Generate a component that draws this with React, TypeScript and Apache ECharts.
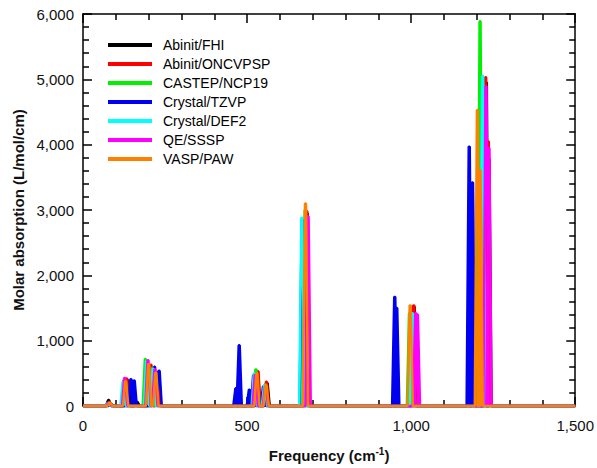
import React, { useEffect, useRef } from "react";
import * as echarts from "echarts";

// ---- data (peak frequency in cm-1, peak molar absorption in L/mol/cm) ----
const seriesNames = [
  "Abinit/FHI",
  "Abinit/ONCVPSP",
  "CASTEP/NCP19",
  "Crystal/TZVP",
  "Crystal/DEF2",
  "QE/SSSP",
  "VASP/PAW",
];

const seriesColors = ["#000000", "#ff0000", "#00f000", "#0000f0", "#00ffff", "#ff00ff", "#ff8000"];

const peaksFHI: number[][] = [
  [78, 90], [135, 400], [165, 60], [205, 620], [226, 500], [532, 520], [561, 350],
  [683, 2950], [1009, 1520], [1229, 4950], [1237, 3780],
];
const peaksONCV: number[][] = [
  [80, 60], [133, 420], [207, 630], [228, 520], [533, 530], [559, 370],
  [682, 2980], [1008, 1540], [1227, 5030], [1235, 4050],
];
const peaksNCP19: number[][] = [
  [77, 45], [124, 390], [190, 720], [212, 580], [527, 560], [555, 330],
  [677, 3000], [995, 1420], [1210, 5890],
];
const peaksTZVP: number[][] = [
  [85, 30], [146, 410], [156, 390], [218, 600], [232, 540], [466, 270], [476, 930],
  [507, 250], [520, 470], [550, 300], [668, 2850], [950, 1670], [956, 1500],
  [1177, 3970], [1187, 3420],
];
const peaksDEF2: number[][] = [
  [76, 40], [122, 360], [194, 690], [214, 570], [522, 500], [553, 310],
  [667, 2880], [1004, 1420], [1218, 5050],
];
const peaksSSSP: number[][] = [
  [79, 50], [127, 430], [198, 700], [219, 560], [525, 480], [556, 300],
  [686, 2900], [1014, 1420], [1019, 1400], [1228, 4890], [1237, 3950],
];
const peaksPAW: number[][] = [
  [82, 50], [130, 380], [200, 640], [222, 510], [530, 500], [558, 320],
  [678, 3100], [997, 1540], [1202, 4530], [1210, 3610],
];

const allPeaks = [peaksFHI, peaksONCV, peaksNCP19, peaksTZVP, peaksDEF2, peaksSSSP, peaksPAW];

const xTickLabels = ["0", "500", "1,000", "1,500"];
const xRange = [0, 1500];
const yRange = [0, 6000];

// drawing style of one spectral line
const BASE_HALF = 8;
const TOP_HALF = 1.5;

function buildLine(peaks: number[][]): number[][] {
  const pts: number[][] = [[xRange[0], 0]];
  for (const [f, h] of peaks) {
    pts.push([f - BASE_HALF, 0], [f - TOP_HALF, h], [f + TOP_HALF, h], [f + BASE_HALF, 0]);
  }
  pts.push([xRange[1], 0]);
  return pts;
}

const FONT = "'Liberation Sans', Arial, Helvetica, sans-serif";

export default function App() {
  const ref = useRef<HTMLDivElement>(null);
  useEffect(() => {
    if (!ref.current) return;
    const chart = echarts.init(ref.current, undefined, { renderer: "svg" });

    const axisLine = { show: true, onZero: false, lineStyle: { color: "#000", width: 1.5 } };
    const tick = { show: true, inside: true, length: 9, lineStyle: { color: "#000", width: 1.5 } };
    const minor = { show: true, splitNumber: 5, length: 6, lineStyle: { color: "#000", width: 1.5 } };

    const series = seriesNames.map((name, i) => ({
      name,
      type: "line",
      data: buildLine(allPeaks[i]),
      showSymbol: false,
      symbol: "none",
      clip: false,
      color: seriesColors[i],
      lineStyle: { color: seriesColors[i], width: 2.5 },
      areaStyle: { color: seriesColors[i], opacity: 1 },
      emphasis: { disabled: true },
    }));

    chart.setOption({
      animation: false,
      grid: { left: 83, right: 19, top: 14, bottom: 62 },
      legend: {
        orient: "vertical",
        left: 108,
        top: 37,
        padding: 0,
        itemGap: 3,
        itemWidth: 44,
        itemHeight: 4,
        icon: "rect",
        data: seriesNames,
        textStyle: { fontFamily: FONT, fontSize: 14, color: "#000", lineHeight: 16, padding: [0, 0, 0, 6] },
      },
      xAxis: [
        {
          type: "value",
          position: "bottom",
          min: xRange[0],
          max: xRange[1],
          interval: 500,
          axisLine,
          axisTick: tick,
          minorTick: minor,
          splitLine: { show: false },
          axisLabel: {
            fontFamily: FONT,
            fontSize: 15,
            color: "#111",
            margin: 12,
            formatter: (v: number) => xTickLabels[Math.round(v / 500)] ?? "",
          },
          name: "{b|Frequency (cm}{s|-1}{b|)}",
          nameLocation: "middle",
          nameGap: 40,
          nameTextStyle: {
            rich: {
              b: { fontFamily: FONT, fontSize: 15, fontWeight: "bold", color: "#111", lineHeight: 18 },
              s: { fontFamily: FONT, fontSize: 10, fontWeight: "bold", color: "#111", lineHeight: 10, verticalAlign: "top" },
            },
          },
        },
        {
          type: "value",
          position: "top",
          min: xRange[0],
          max: xRange[1],
          interval: 500,
          axisLine,
          axisTick: tick,
          minorTick: minor,
          splitLine: { show: false },
          axisLabel: { show: false },
        },
      ],
      yAxis: [
        {
          type: "value",
          position: "left",
          min: yRange[0],
          max: yRange[1],
          interval: 1000,
          axisLine,
          axisTick: tick,
          minorTick: minor,
          splitLine: { show: false },
          axisLabel: {
            fontFamily: FONT,
            fontSize: 15,
            color: "#111",
            margin: 9,
            formatter: (v: number) => v.toLocaleString("en-US"),
          },
          name: "Molar absorption (L/mol/cm)",
          nameLocation: "middle",
          nameGap: 57,
          nameTextStyle: { fontFamily: FONT, fontSize: 15, fontWeight: "bold", color: "#111" },
        },
        {
          type: "value",
          position: "right",
          min: yRange[0],
          max: yRange[1],
          interval: 1000,
          axisLine,
          axisTick: tick,
          minorTick: minor,
          splitLine: { show: false },
          axisLabel: { show: false },
        },
      ],
      series,
    });
    return () => chart.dispose();
  }, []);
  return <div ref={ref} style={{ width: 597, height: 468, position: "absolute", left: 0, top: 0 }} />;
}
